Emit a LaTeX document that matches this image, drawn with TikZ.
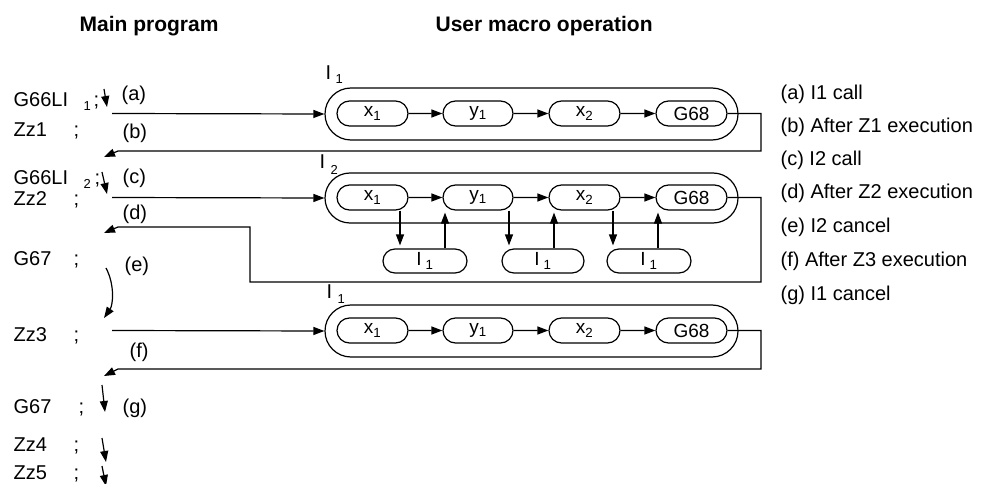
\documentclass[tikz,border=0pt]{standalone}
\usepackage{fontspec}
\setmainfont{Liberation Sans}
\usetikzlibrary{shapes.misc,arrows.meta}
\begin{document}
\begin{tikzpicture}[x=1pt,y=-1pt,
  line width=1.2pt,
  arr/.style={-{Triangle[length=11pt,width=8pt]}},
  lbl/.style={anchor=base west,inner sep=0pt,font=\fontsize{20}{24}\selectfont},
  sublbl/.style={anchor=base west,inner sep=0pt,font=\fontsize{13}{15}\selectfont},
  hdr/.style={anchor=base west,inner sep=0pt,font=\fontsize{21}{25}\selectfont\bfseries},
  capbox/.style={draw,rounded rectangle,minimum height=25pt,minimum width=71pt,inner sep=0pt,font=\fontsize{19}{23}\selectfont},
  subcapbox/.style={draw,rounded rectangle,minimum height=24pt,minimum width=84pt,inner sep=0pt,font=\fontsize{19}{23}\selectfont},
  outerbox/.style={draw,rounded rectangle,minimum height=52pt,minimum width=413pt,inner sep=0pt},
]
\useasboundingbox (0,0) rectangle (994,484);

% headers
\node[hdr] (h1) at (79,32) {Main program};
\node[hdr] (h2) at (435,32) {User macro operation};

% left program lines
\node[lbl] (m1) at (13,107) {G66LI};
\node[sublbl] (m1s) at (83,111) {1};
\node[lbl] (m1c) at (93,107) {;};
\node[lbl] (m2) at (13,137) {Zz1};
\node[lbl] (m2c) at (73,137) {;};
\node[lbl] (m3) at (13,185) {G66LI};
\node[sublbl] (m3s) at (83,189) {2};
\node[lbl] (m3c) at (94,185) {;};
\node[lbl] (m4) at (13,206) {Zz2};
\node[lbl] (m4c) at (73,206) {;};
\node[lbl] (m5) at (13,265) {G67};
\node[lbl] (m5c) at (73,265) {;};
\node[lbl] (m6) at (13,341) {Zz3};
\node[lbl] (m6c) at (73,341) {;};
\node[lbl] (m7) at (13,413) {G67};
\node[lbl] (m7c) at (78,413) {;};
\node[lbl] (m8) at (13,451) {Zz4};
\node[lbl] (m8c) at (73,451) {;};
\node[lbl] (m9) at (13,479) {Zz5};
\node[lbl] (m9c) at (73,479) {;};

% step labels on the left
\node[lbl] (la) at (121,101) {(a)};
\node[lbl] (lb) at (122,139) {(b)};
\node[lbl] (lc) at (122,183) {(c)};
\node[lbl] (ld) at (122,219) {(d)};
\node[lbl] (le) at (124,271) {(e)};
\node[lbl] (lf) at (129,357) {(f)};
\node[lbl] (lg) at (122,413) {(g)};

% small flow arrows
\coordinate (s1a) at (104,89);  \coordinate (s1b) at (107,107);
\coordinate (s2a) at (102,172); \coordinate (s2b) at (107,194);
\coordinate (s3a) at (106,268); \coordinate (s3b) at (104,318);
\coordinate (s4a) at (102,385); \coordinate (s4b) at (105,412);
\coordinate (s5a) at (102,438); \coordinate (s5b) at (106,462);
\coordinate (s6a) at (102,466); \coordinate (s6b) at (106,486);
\draw[arr] (s1a) -- (s1b);
\draw[arr] (s2a) -- (s2b);
\draw[arr] (s3a) .. controls (115,285) and (113,305) .. (s3b);
\draw[arr] (s4a) -- (s4b);
\draw[arr] (s5a) -- (s5b);
\draw[arr] (s6a) -- (s6b);

% ---------- row 1 ----------
\node[outerbox] (oa) at (531.5,114) {};
\node[capbox] (xa) at (372.5,113.5) {x\textsubscript{1}};
\node[capbox,minimum width=70pt] (ya) at (478,113.5) {y\textsubscript{1}};
\node[capbox] (za) at (584.5,113.5) {x\textsubscript{2}};
\node[capbox] (ga) at (691.5,113.5) {G68};
\node[lbl] (ia) at (325,80) {I};
\node[sublbl] (ias) at (335,84) {1};
\draw[arr] (xa) -- (ya);
\draw[arr] (ya) -- (za);
\draw[arr] (za) -- (ga);
\coordinate (fa) at (112,113.5);
\draw[arr] (fa) -- (oa.west);
\coordinate (ra1) at (761,113.5);
\coordinate (ra2) at (118,151);
\coordinate (ra3) at (104,157);
\draw[arr] (ga.east) -- (ra1) |- (ra2) -- (ra3);

% ---------- row 2 ----------
\node[outerbox,minimum height=50pt] (ob) at (531.5,198) {};
\node[capbox] (xb) at (372.5,197.5) {x\textsubscript{1}};
\node[capbox,minimum width=70pt] (yb) at (478,197.5) {y\textsubscript{1}};
\node[capbox] (zb) at (584.5,197.5) {x\textsubscript{2}};
\node[capbox] (gb) at (691.5,197.5) {G68};
\node[lbl] (ib) at (319,169) {I};
\node[sublbl] (ibs) at (330,175) {2};
\draw[arr] (xb) -- (yb);
\draw[arr] (yb) -- (zb);
\draw[arr] (zb) -- (gb);
\coordinate (fb) at (112,197.5);
\draw[arr] (fb) -- (ob.west);
\coordinate (rb1) at (761,197.5);
\coordinate (rb2) at (250,282);
\coordinate (rb3) at (118,227);
\coordinate (rb4) at (104,233);
\draw[arr] (gb.east) -- (rb1) |- (rb2) |- (rb3) -- (rb4);

\node[subcapbox] (sa) at (425,261) {I\hspace{4pt}\textsubscript{1}};
\node[subcapbox,minimum width=82pt] (sb) at (543,261) {I\hspace{4pt}\textsubscript{1}};
\node[subcapbox] (sc) at (649,261) {I\hspace{4pt}\textsubscript{1}};
\coordinate (d1) at (400,0); \coordinate (u1) at (445,0);
\coordinate (d2) at (509,0); \coordinate (u2) at (554,0);
\coordinate (d3) at (613,0); \coordinate (u3) at (658,0);
\draw[arr,shorten >=3pt] (xb.south -| d1) -- (sa.north -| d1);
\draw[arr,shorten >=2pt] (sa.north -| u1) -- (yb.south -| u1);
\draw[arr,shorten >=3pt] (yb.south -| d2) -- (sb.north -| d2);
\draw[arr,shorten >=2pt] (sb.north -| u2) -- (zb.south -| u2);
\draw[arr,shorten >=3pt] (zb.south -| d3) -- (sc.north -| d3);
\draw[arr,shorten >=2pt] (sc.north -| u3) -- (gb.south -| u3);

% ---------- row 3 ----------
\node[outerbox] (oc) at (531.5,331) {};
\node[capbox] (xc) at (372.5,330.5) {x\textsubscript{1}};
\node[capbox,minimum width=70pt] (yc) at (478,330.5) {y\textsubscript{1}};
\node[capbox] (zc) at (584.5,330.5) {x\textsubscript{2}};
\node[capbox] (gc) at (691.5,330.5) {G68};
\node[lbl] (ic) at (326,298) {I};
\node[sublbl] (ics) at (337,303) {1};
\draw[arr] (xc) -- (yc);
\draw[arr] (yc) -- (zc);
\draw[arr] (zc) -- (gc);
\coordinate (fc) at (112,330.5);
\draw[arr] (fc) -- (oc.west);
\coordinate (rc1) at (761,330.5);
\coordinate (rc2) at (118,369);
\coordinate (rc3) at (104,376);
\draw[arr] (gc.east) -- (rc1) |- (rc2) -- (rc3);

% ---------- legend ----------
\node[lbl] (ta) at (780,100) {(a) I1 call};
\node[lbl] (tb) at (780,133) {(b) After Z1 execution};
\node[lbl] (tc) at (780,166) {(c) I2 call};
\node[lbl] (td) at (780,199) {(d) After Z2 execution};
\node[lbl] (te) at (780,233) {(e) I2 cancel};
\node[lbl] (tf) at (780,266) {(f) After Z3 execution};
\node[lbl] (tg) at (780,300) {(g) I1 cancel};
\end{tikzpicture}
\end{document}
